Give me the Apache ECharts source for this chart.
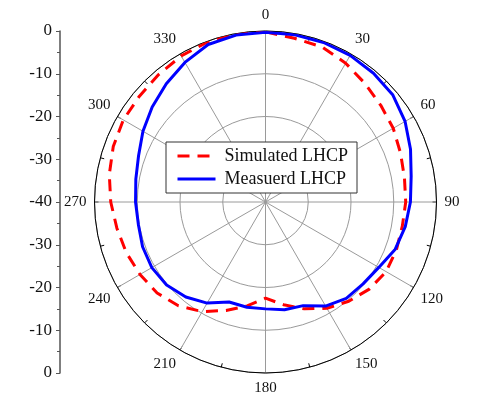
<!DOCTYPE html>
<html>
<head>
<meta charset="utf-8">
<script src="https://cdn.jsdelivr.net/npm/echarts@6/dist/echarts.min.js"></script>
<style>
html,body{margin:0;padding:0;background:#fff;}
#c{width:479px;height:400px;}
</style>
</head>
<body>
<div id="c"></div>
<script>
// Data
var angles = [0,10,20,30,40,50,60,70,80,90,100,110,120,130,140,150,160,170,180,190,200,210,220,230,240,250,260,270,280,290,300,310,320,330,340,350,360];
var simulated = [-0.2,-1.1,-1.4,-2.5,-3.8,-4.8,-5.5,-6.4,-7.0,-7.2,-7.5,-7.4,-7.4,-8.3,-9.7,-11.3,-13.4,-15.6,-17.5,-15.3,-13.0,-10.4,-8.3,-6.9,-6.1,-5.35,-4.7,-3.8,-2.9,-2.1,-1.6,-1.5,-1.1,-0.55,-0.2,0,-0.2];
var measured = [-0.3,-0.3,-0.3,-0.4,-0.7,-1.1,-2.3,-3.9,-5.4,-6.1,-6.8,-7.7,-9.4,-10.2,-10.6,-11.9,-14.2,-14.4,-15.0,-15.0,-15.1,-12.7,-11.0,-9.8,-9.3,-9.4,-9.8,-9.6,-9.2,-8.4,-6.9,-5.4,-3.9,-2.3,-0.8,-0.35,-0.3];
var seriesNames = ['Simulated LHCP','Measuerd LHCP'];
var angleTicks = [0,30,60,90,120,150,180,210,240,270,300,330];
var radiusMin = -40, radiusMax = 0, radiusStep = 10;

function pairs(vals){ return vals.map(function(v,i){ return [v, angles[i]]; }); }

var FONT = 'Liberation Serif';
var chart = echarts.init(document.getElementById('c'), null, {renderer:'canvas'});
chart.setOption({
  backgroundColor:'#fff',
  animation:false,
  textStyle:{fontFamily:FONT},
  polar:{center:[265.5,202], radius:171},
  angleAxis:{
    type:'value', min:0, max:360, interval:30, startAngle:90, clockwise:true,
    axisLine:{show:true, lineStyle:{color:'#000', width:1}},
    axisTick:{show:true, inside:true, length:4, lineStyle:{color:'#000'}},
    minorTick:{show:true, splitNumber:2, length:4, lineStyle:{color:'#000'}},
    axisLabel:{show:true, margin:8, color:'#111', fontSize:15, fontFamily:FONT,
      formatter:function(v){ return angleTicks.indexOf(v)>=0 ? String(v) : ''; }},
    splitLine:{show:true, lineStyle:{color:'#9a9a9a', width:1}}
  },
  radiusAxis:{
    type:'value', min:radiusMin, max:radiusMax, interval:radiusStep,
    axisLine:{show:false}, axisTick:{show:false}, axisLabel:{show:false},
    splitLine:{show:true, lineStyle:{color:'#9a9a9a', width:1}}
  },
  grid:{left:60, top:31, height:342, width:1},
  xAxis:{type:'value', show:false, min:0, max:1},
  yAxis:{
    type:'value', min:radiusMin, max:-radiusMin, interval:radiusStep, position:'left',
    axisLine:{show:true, lineStyle:{color:'#555', width:1.5}},
    axisTick:{show:true, length:4, lineStyle:{color:'#555'}},
    minorTick:{show:true, splitNumber:2, length:3, lineStyle:{color:'#555'}},
    splitLine:{show:false},
    axisLabel:{color:'#111', fontSize:17, fontFamily:FONT, margin:8,
      formatter:function(v){ return String(Math.abs(v)+radiusMin); }}
  },
  legend:{
    show:true, orient:'vertical', left:166, top:142,
    data:seriesNames,
    backgroundColor:'#fff', borderColor:'#333', borderWidth:1,
    padding:[5,9,5,10], itemGap:5, itemWidth:38, itemHeight:14,
    itemStyle:{opacity:0},
    lineStyle:{width:3},
    textStyle:{fontFamily:FONT, fontSize:18, color:'#111', padding:[0,0,0,4]}
  },
  series:[
    {name:seriesNames[0], type:'line', coordinateSystem:'polar', showSymbol:false, symbol:'none',
     data:pairs(simulated), color:'#ff0000',
     lineStyle:{color:'#ff0000', width:3, type:[12,8]}, z:3},
    {name:seriesNames[1], type:'line', coordinateSystem:'polar', showSymbol:false, symbol:'none',
     data:pairs(measured), color:'#0000ff',
     lineStyle:{color:'#0000ff', width:3}, z:4}
  ]
});
</script>
</body>
</html>
